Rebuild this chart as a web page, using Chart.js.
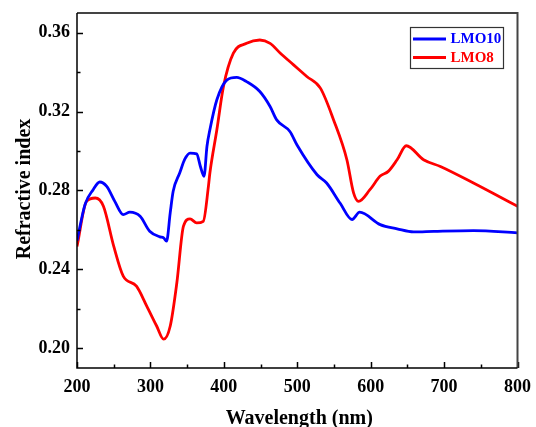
<!DOCTYPE html>
<html><head><meta charset="utf-8">
<script src="https://cdn.jsdelivr.net/npm/chart.js@4/dist/chart.umd.min.js"></script>
<style>html,body{margin:0;padding:0;background:#fff}#wrap{width:536px;height:427px}</style>
</head><body><div id="wrap"><canvas id="c" width="536" height="427"></canvas></div>
<script>
const seriesNames = ["LMO10", "LMO8"];
const lmo10X = [200,211,222,231,240.5,251.5,263,272,286,299,313,318,322,327,331,340,347,354,363,368,373,377,381,390.5,404,417.6,431,449,463,472,490,499.5,527,540,558.5,574.6,585,613,636,658.5,686,740,800];
const lmo10Y = [0.2545,0.2730,0.2804,0.2843,0.2821,0.2745,0.2678,0.2690,0.2669,0.2593,0.2565,0.2560,0.2543,0.2688,0.2796,0.2890,0.2960,0.2990,0.2986,0.2923,0.2872,0.3023,0.3108,0.3260,0.3360,0.3374,0.3352,0.3302,0.3226,0.3158,0.3099,0.3032,0.2880,0.2838,0.2735,0.2653,0.2690,0.2627,0.2606,0.2590,0.2593,0.2597,0.2585];
const lmo8X = [200,213,225,236,250,263,281,295,308.5,318,327,336,345,354,363,372,379,381,390.5,399.5,413,431,449,463,477,495,513,531.5,549.5,567.6,576.7,583.5,599,613,624,636,648.5,672,695,740,800];
const lmo8Y = [0.2516,0.2745,0.2762,0.2720,0.2518,0.2366,0.2315,0.2214,0.2113,0.2046,0.2113,0.2332,0.2619,0.2656,0.2636,0.2644,0.2821,0.2889,0.3108,0.3327,0.3496,0.3546,0.3563,0.3546,0.3496,0.3437,0.3378,0.3319,0.3158,0.2956,0.2788,0.2745,0.2804,0.2873,0.2897,0.2956,0.3027,0.2956,0.2922,0.2838,0.2720];
const xTicks = [200,300,400,500,600,700,800];
const xMinor = [250,350,450,550,650,750];
const yTicks = [0.20,0.24,0.28,0.32,0.36];
const yMinor = [0.22,0.26,0.30,0.34];
const xTitle = "Wavelength (nm)";
const yTitle = "Refractive index";
const colors = ["#0000FF", "#FF0000"];

const FONT = "'Liberation Serif', 'Times New Roman', serif";

function pts(xs, ys){ return xs.map((x,i)=>({x:x, y:ys[i]})); }

const decor = {
  id: 'decor',
  afterDraw(chart){
    const ctx = chart.ctx, a = chart.chartArea;
    const xs = chart.scales.x, ys = chart.scales.y;
    ctx.save();
    ctx.strokeStyle = '#000'; ctx.lineWidth = 1.5;
    ctx.beginPath();
    xTicks.forEach(v=>{const p=Math.round(xs.getPixelForValue(v))+0.5; ctx.moveTo(p,a.bottom); ctx.lineTo(p,a.bottom-6);});
    xMinor.forEach(v=>{const p=Math.round(xs.getPixelForValue(v))+0.5; ctx.moveTo(p,a.bottom); ctx.lineTo(p,a.bottom-3.5);});
    yTicks.forEach(v=>{const p=Math.round(ys.getPixelForValue(v))+0.5; ctx.moveTo(a.left,p); ctx.lineTo(a.left+6,p);});
    yMinor.forEach(v=>{const p=Math.round(ys.getPixelForValue(v))+0.5; ctx.moveTo(a.left,p); ctx.lineTo(a.left+3.5,p);});
    ctx.stroke();
    ctx.strokeStyle = '#444'; ctx.lineWidth = 2;
    ctx.beginPath(); ctx.moveTo(a.left,a.top); ctx.lineTo(a.right,a.top); ctx.lineTo(a.right,a.bottom); ctx.stroke();
    ctx.strokeStyle = '#000'; ctx.lineWidth = 1.5;
    ctx.beginPath(); ctx.moveTo(a.left,a.top); ctx.lineTo(a.left,a.bottom); ctx.lineTo(a.right,a.bottom); ctx.stroke();
    ctx.fillStyle = '#000';
    ctx.font = "bold 20px " + FONT;
    ctx.textAlign = 'center'; ctx.textBaseline = 'alphabetic';
    ctx.fillText(xTitle, (a.left+a.right)/2 + 2, 424);
    ctx.save(); ctx.translate(30, 189); ctx.rotate(-Math.PI/2);
    ctx.fillText(yTitle, 0, 0); ctx.restore();
    ctx.strokeStyle = '#333'; ctx.lineWidth = 1.2;
    ctx.strokeRect(410.5, 27.5, 93, 41);
    ctx.font = "bold 15px " + FONT; ctx.textAlign = 'left'; ctx.textBaseline = 'middle';
    [39, 57.5].forEach((y,i)=>{
      ctx.strokeStyle = colors[i]; ctx.lineWidth = 2.8;
      ctx.beginPath(); ctx.moveTo(413,y); ctx.lineTo(446,y); ctx.stroke();
      ctx.fillStyle = colors[i];
      ctx.fillText(seriesNames[i], 450.5, y+0.5);
    });
    ctx.restore();
  }
};

new Chart(document.getElementById('c'), {
  type: 'line',
  data: {
    datasets: [
      {label: seriesNames[0], data: pts(lmo10X, lmo10Y), borderColor: colors[0], borderWidth: 2.8, pointRadius: 0, cubicInterpolationMode: 'monotone', fill: false},
      {label: seriesNames[1], data: pts(lmo8X, lmo8Y), borderColor: colors[1], borderWidth: 2.8, pointRadius: 0, cubicInterpolationMode: 'monotone', fill: false}
    ]
  },
  options: {
    responsive: false, animation: false,
    layout: {padding: {top: 13, right: 18.5, left: 0, bottom: 0}},
    plugins: {legend: {display: false}, tooltip: {enabled: false}},
    scales: {
      x: {
        type: 'linear', min: 200, max: 800,
        afterBuildTicks: s => { s.ticks = xTicks.map(v=>({value:v})); },
        afterFit: s => { s.height = 59; s.paddingLeft = 0; s.paddingRight = 0; },
        grid: {display: false, drawTicks: false}, border: {display: false},
        ticks: {color: '#000', padding: 9, font: {family: FONT, size: 18, weight: 'bold'}, maxRotation: 0}
      },
      y: {
        type: 'linear', min: 0.19, max: 0.37,
        afterBuildTicks: s => { s.ticks = yTicks.map(v=>({value:v})); },
        afterFit: s => { s.width = 77; s.paddingTop = 0; s.paddingBottom = 0; },
        grid: {display: false, drawTicks: false}, border: {display: false},
        ticks: {color: '#000', padding: 7, font: {family: FONT, size: 18, weight: 'bold'}, callback: v => v.toFixed(2)}
      }
    }
  },
  plugins: [decor]
});
</script></body></html>
